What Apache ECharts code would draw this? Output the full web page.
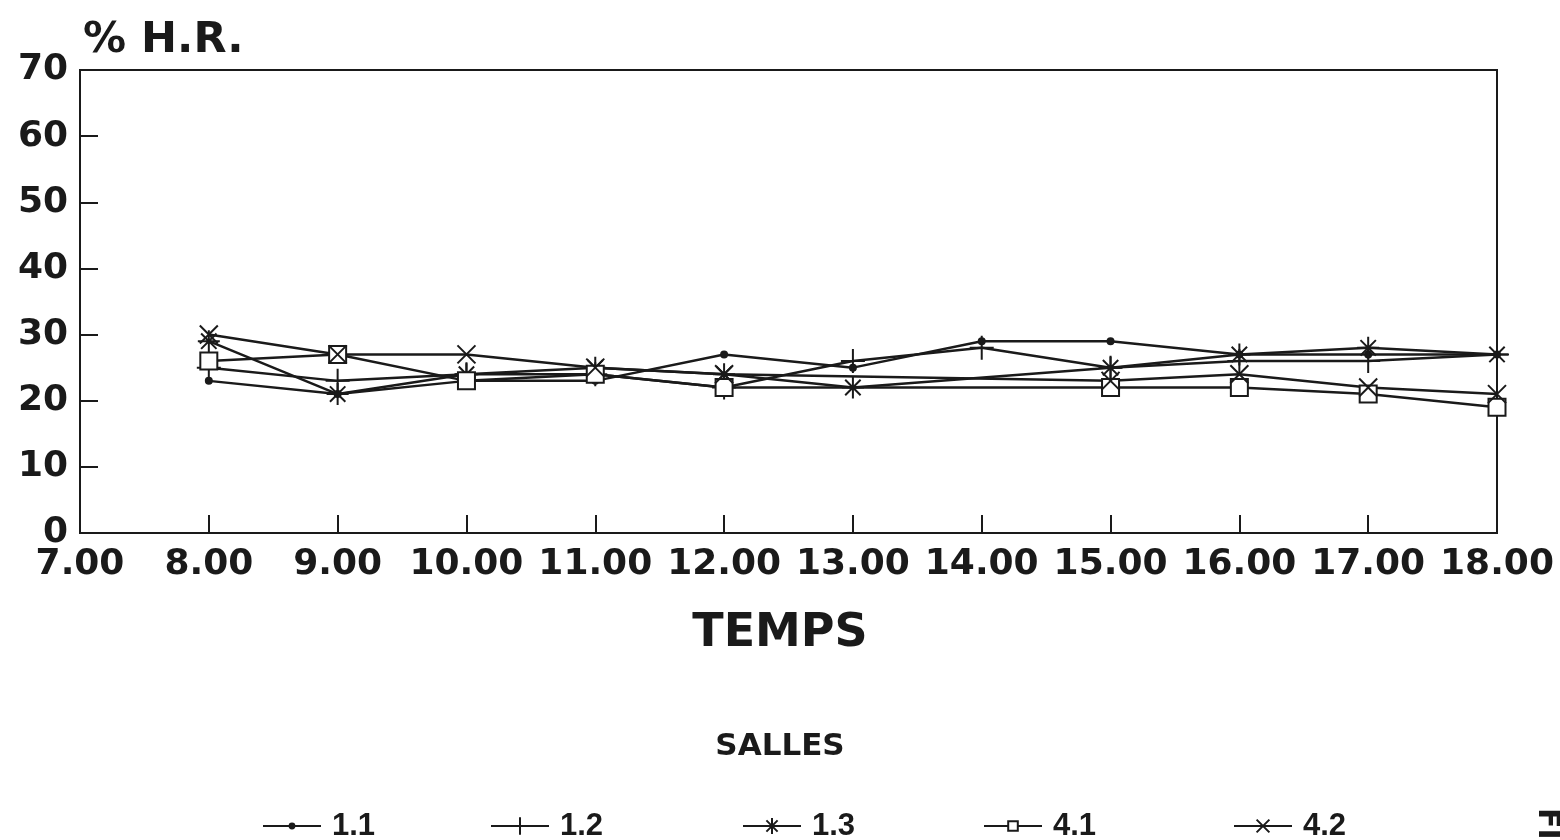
<!DOCTYPE html>
<html>
<head>
<meta charset="utf-8">
<title>% H.R. - TEMPS</title>
<script src="https://cdn.jsdelivr.net/npm/echarts@6/dist/echarts.min.js"></script>
<style>
  html, body { margin: 0; padding: 0; background: #fff; }
  #main { width: 1560px; height: 840px; }
</style>
</head>
<body>
<div id="main"></div>
<script>
// heures de mesure
var hours = [8, 9, 10, 11, 12, 13, 14, 15, 16, 17, 18];
// humidite relative par salle (null = pas de mesure)
var salle11 = [23, 21, 23, 23, 27, 25, 29, 29, 27, 27, 27];
var salle12 = [25, 23, 24, 24, 22, 26, 28, 25, 26, 26, 27];
var salle13 = [29, 21, 24, 25, 24, 22, null, 25, 27, 28, 27];
var salle41 = [26, 27, 23, 24, 22, null, null, 22, 22, 21, 19];
var salle42 = [30, 27, 27, 25, 24, null, null, 23, 24, 22, 21];
var salleNames = ['1.1', '1.2', '1.3', '4.1', '4.2'];

var ink = '#1a1a1a';
var chart = echarts.init(document.getElementById('main'), null, { renderer: 'canvas' });

function pairs(values) {
  var out = [];
  values.forEach(function (v, i) {
    out.push([hours[i], v]);
  });
  return out;
}

// marqueurs type traceur
var plusPath = 'path://M10,0L10,20M0,10L20,10';
var starPath = 'path://M10,0L10,20M0,10L20,10M3,3L17,17M3,17L17,3';
var crossPath = 'path://M0,0L20,20M0,20L20,0';

function makeSeries(name, values, symbol, size) {
  return {
    name: name,
    type: 'line',
    data: pairs(values),
    connectNulls: true,
    symbol: symbol,
    symbolSize: size,
    showAllSymbol: true,
    lineStyle: { color: ink, width: 2.5 },
    itemStyle: { color: ink, borderColor: ink, borderWidth: 2 },
    emphasis: { disabled: true }
  };
}

var series = [
  makeSeries('1.1', salle11, 'circle', 6),
  makeSeries('1.2', salle12, plusPath, 24),
  makeSeries('1.3', salle13, starPath, 22),
  makeSeries('4.1', salle41, 'emptyRect', 17),
  makeSeries('4.2', salle42, crossPath, 18)
];

// une legende par salle pour placer chaque element
var legendLeft = [262, 490, 742, 983, 1233];
var legendIconH = [6, 22, 20, 12, 16];
var legends = salleNames.map(function (n, i) {
  return {
    data: [n],
    left: legendLeft[i],
    top: 810,
    itemWidth: 58,
    itemHeight: legendIconH[i],
    itemGap: 0,
    padding: 0,
    selectedMode: false,
    textStyle: {
      color: ink, fontFamily: 'Liberation Sans', fontWeight: 'bold',
      fontSize: 31, lineHeight: 32, padding: [0, 0, 0, 6]
    }
  };
});

var axisFont = { color: ink, fontFamily: 'DejaVu Sans', fontWeight: 'bold', fontSize: 36 };

var option = {
  animation: false,
  backgroundColor: '#fff',
  title: {
    text: '% H.R.',
    left: 78,
    top: 14,
    textStyle: { color: ink, fontFamily: 'DejaVu Sans', fontWeight: 'bold', fontSize: 43 }
  },
  legend: legends,
  grid: {
    left: 80, right: 63, top: 70, bottom: 307,
    show: true, borderColor: ink, borderWidth: 2,
    outerBoundsMode: 'none'
  },
  xAxis: {
    type: 'value',
    min: 7, max: 18, interval: 1,
    axisLine: { show: true, lineStyle: { color: ink, width: 2 } },
    axisTick: { show: true, inside: true, length: 18, lineStyle: { color: ink, width: 2 } },
    splitLine: { show: false },
    axisLabel: Object.assign({ margin: 14, formatter: function (v) { return v.toFixed(2); } }, axisFont)
  },
  yAxis: {
    type: 'value',
    min: 0, max: 70, interval: 10,
    axisLine: { show: true, lineStyle: { color: ink, width: 2 } },
    axisTick: { show: true, inside: true, length: 18, lineStyle: { color: ink, width: 2 } },
    splitLine: { show: false },
    axisLabel: Object.assign({ margin: 12 }, axisFont)
  },
  graphic: [
    {
      type: 'text', left: 'center', top: 611,
      style: { text: 'TEMPS', fill: ink, font: 'bold 46px "DejaVu Sans"' }
    },
    {
      type: 'text', left: 'center', top: 731,
      style: { text: 'SALLES', fill: ink, font: 'bold 31px "DejaVu Sans"' }
    },
    {
      type: 'text', x: 1562, y: 808, rotation: -Math.PI / 2,
      style: { text: 'FIG.', fill: ink, font: 'bold 30px "DejaVu Sans"' }
    }
  ],
  series: series
};

chart.setOption(option);
</script>
</body>
</html>
